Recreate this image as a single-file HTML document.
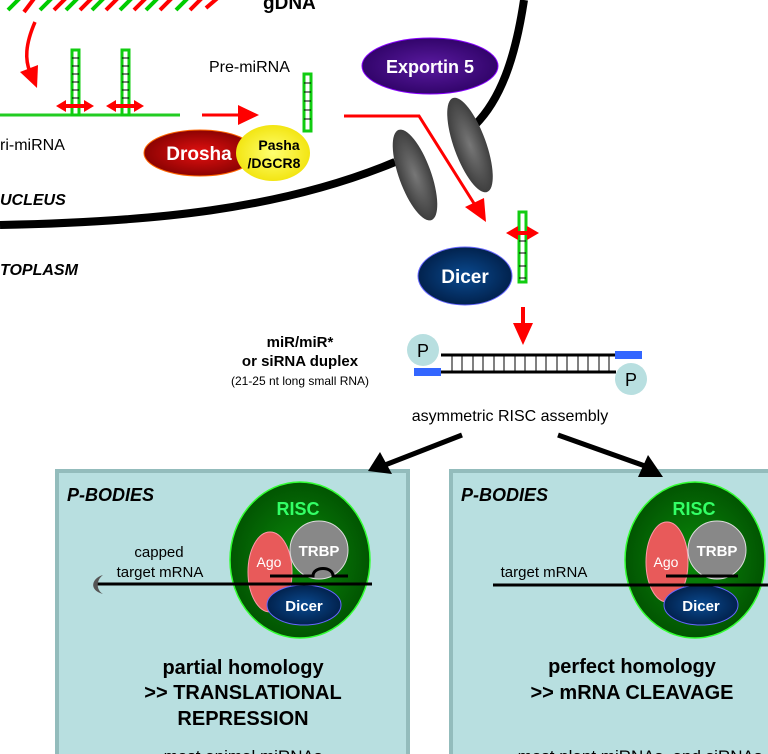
<!DOCTYPE html>
<html><head><meta charset="utf-8"><style>
html,body{margin:0;padding:0;background:#fff;}
svg{display:block;font-family:"Liberation Sans",Arial,sans-serif;}
</style></head><body>
<svg width="768" height="754" viewBox="0 0 768 754" xmlns="http://www.w3.org/2000/svg">
<defs>
<radialGradient id="gr" cx="50%" cy="50%" r="60%"><stop offset="0" stop-color="#e41010"/><stop offset="1" stop-color="#7a0000"/></radialGradient>
<radialGradient id="gy" cx="50%" cy="50%" r="60%"><stop offset="0" stop-color="#ffff70"/><stop offset="1" stop-color="#f0e000"/></radialGradient>
<radialGradient id="gp" cx="50%" cy="50%" r="60%"><stop offset="0" stop-color="#5a1aa0"/><stop offset="1" stop-color="#2a0060"/></radialGradient>
<radialGradient id="gb" cx="50%" cy="50%" r="60%"><stop offset="0" stop-color="#0a4a90"/><stop offset="1" stop-color="#001a40"/></radialGradient>
<radialGradient id="gg" cx="50%" cy="50%" r="60%"><stop offset="0" stop-color="#777"/><stop offset="1" stop-color="#333"/></radialGradient>
<radialGradient id="gG" cx="50%" cy="50%" r="60%"><stop offset="0" stop-color="#0a8a0a"/><stop offset="1" stop-color="#004a00"/></radialGradient>
</defs>
<path d="M8,10 L22,-4 M40,10 L54,-4 M66,10 L80,-4 M92,10 L106,-4 M120,10 L134,-4 M146,10 L160,-4 M176,10 L190,-4" stroke="#00cc00" stroke-width="4" fill="none"/>
<path d="M24,12 L36,-4 M54,10 L68,-4 M80,10 L94,-4 M106,10 L120,-4 M134,10 L148,-4 M160,10 L174,-4 M190,10 L204,-4 M206,8 L220,-4" stroke="#ff0000" stroke-width="4" fill="none"/>
<text x="263" y="9" font-weight="bold" font-size="19">gDNA</text>
<path d="M35,22 C25,45 25,60 30,72" stroke="#f00" stroke-width="3.5" fill="none"/>
<path d="M20,72 L38,65 L37,88z" fill="#f00"/>
<path d="M0,115 H72 M79,115 H122 M129,115 H180" stroke="#2c2" stroke-width="3"/>
<rect x="72" y="50" width="7" height="65" fill="#fff" stroke="#1c1" stroke-width="3"/>
<rect x="122" y="50" width="7" height="65" fill="#fff" stroke="#1c1" stroke-width="3"/>
<path d="M72,58h7M72,66h7M72,74h7M72,82h7M72,90h7M72,98h7M72,106h7M122,58h7M122,66h7M122,74h7M122,82h7M122,90h7M122,98h7M122,106h7" stroke="#000" stroke-width="1"/>
<path d="M56,106 L66,100 L66,112z M94,106 L84,100 L84,112z M106,106 L116,100 L116,112z M144,106 L134,100 L134,112z" fill="#f00"/>
<rect x="66" y="104" width="18" height="4" fill="#f00"/><rect x="116" y="104" width="18" height="4" fill="#f00"/>
<text x="0" y="150" font-size="16">ri-miRNA</text>
<path d="M202,115 H240" stroke="#f00" stroke-width="3"/><path d="M238,105 L259,115 L238,125z" fill="#f00"/>
<text x="209" y="72" font-size="16">Pre-miRNA</text>
<rect x="304" y="74" width="7" height="57" fill="#fff" stroke="#1c1" stroke-width="3"/>
<path d="M304,83h7M304,92h7M304,101h7M304,110h7M304,119h7" stroke="#000"/>
<ellipse cx="200" cy="153" rx="56" ry="23" fill="url(#gr)" stroke="#f60" stroke-width="1"/>
<text x="199" y="160" font-size="19" font-weight="bold" fill="#fff" text-anchor="middle">Drosha</text>
<ellipse cx="273" cy="153" rx="37" ry="28" fill="url(#gy)"/>
<text x="279" y="150" font-size="14" font-weight="bold" text-anchor="middle">Pasha</text>
<text x="274" y="168" font-size="14" font-weight="bold" text-anchor="middle">/DGCR8</text>
<text x="0" y="205" font-size="16" font-weight="bold" font-style="italic">UCLEUS</text>
<text x="0" y="275" font-size="16" font-weight="bold" font-style="italic">TOPLASM</text>
<path d="M0,225 C150,222 280,210 395,162" stroke="#000" stroke-width="8" fill="none"/>
<path d="M475,125 C500,100 515,60 524,0" stroke="#000" stroke-width="8" fill="none"/>
<ellipse cx="430" cy="66" rx="68" ry="28" fill="url(#gp)" stroke="#80f" stroke-width="1"/>
<text x="430" y="73" font-size="18" font-weight="bold" fill="#fff" text-anchor="middle">Exportin 5</text>
<ellipse cx="415" cy="175" rx="16" ry="48" transform="rotate(-20 415 175)" fill="url(#gg)"/>
<ellipse cx="470" cy="145" rx="16" ry="50" transform="rotate(-20 470 145)" fill="url(#gg)"/>
<path d="M344,116 H419 L475,205" stroke="#f00" stroke-width="3" fill="none"/>
<path d="M465,207 L484,198 L486,222z" fill="#f00"/>
<ellipse cx="465" cy="276" rx="47" ry="29" fill="url(#gb)" stroke="#66f" stroke-width="1"/>
<text x="465" y="283" font-size="19" font-weight="bold" fill="#fff" text-anchor="middle">Dicer</text>
<rect x="519" y="212" width="7" height="70" fill="#fff" stroke="#1c1" stroke-width="3"/>
<path d="M519,241h7M519,253h7M519,266h7M519,278h7" stroke="#000"/>
<path d="M506,233 L518,226 L518,240z M539,233 L527,226 L527,240z" fill="#f00"/><rect x="517" y="231" width="11" height="4" fill="#f00"/>
<path d="M523,307 V325" stroke="#f00" stroke-width="4"/><path d="M513,323 L533,323 L523,345z" fill="#f00"/>
<path d="M441,355 H616 M441,372 H616" stroke="#000" stroke-width="3"/>
<path d="M452,355v17M462,355v17M473,355v17M483,355v17M494,355v17M504,355v17M515,355v17M525,355v17M536,355v17M546,355v17M557,355v17M567,355v17M578,355v17M588,355v17M599,355v17M609,355v17" stroke="#000" stroke-width="1"/>
<rect x="615" y="351" width="27" height="8" fill="#36f"/><rect x="414" y="368" width="27" height="8" fill="#36f"/>
<circle cx="423" cy="350" r="16" fill="#b8dfe0"/><text x="423" y="357" font-size="18" text-anchor="middle">P</text>
<circle cx="631" cy="379" r="16" fill="#b8dfe0"/><text x="631" y="386" font-size="18" text-anchor="middle">P</text>
<text x="300" y="347" font-size="15" font-weight="bold" text-anchor="middle">miR/miR*</text>
<text x="300" y="366" font-size="15" font-weight="bold" text-anchor="middle">or siRNA duplex</text>
<text x="300" y="385" font-size="12" text-anchor="middle">(21-25 nt long small RNA)</text>
<text x="510" y="421" font-size="16" text-anchor="middle">asymmetric RISC assembly</text>
<rect x="57" y="471" width="351" height="290" fill="#b8dfe0" stroke="#93bcbc" stroke-width="4"/>
<rect x="451" y="471" width="330" height="290" fill="#b8dfe0" stroke="#93bcbc" stroke-width="4"/>
<path d="M462,435 L385,465" stroke="#000" stroke-width="5"/><path d="M368,471 L380,452 L392,474z" fill="#000"/>
<path d="M558,435 L645,466" stroke="#000" stroke-width="5"/><path d="M663,477 L638,477 L648,455z" fill="#000"/>
<text x="67" y="501" font-size="18" font-weight="bold" font-style="italic">P-BODIES</text>
<text x="461" y="501" font-size="18" font-weight="bold" font-style="italic">P-BODIES</text>
<ellipse cx="300" cy="560" rx="70" ry="78" fill="url(#gG)" stroke="#3f3" stroke-width="1.5"/>
<text x="298" y="515" font-size="18" font-weight="bold" fill="#3f6" text-anchor="middle">RISC</text>
<ellipse cx="270" cy="572" rx="22" ry="40" fill="#e85a5a" stroke="#f9a" stroke-width="1"/>
<text x="269" y="567" font-size="14" fill="#fff" text-anchor="middle">Ago</text>
<circle cx="319" cy="550" r="29" fill="#888" stroke="#ddd" stroke-width="1"/>
<text x="319" y="556" font-size="15" font-weight="bold" fill="#fff" text-anchor="middle">TRBP</text>
<ellipse cx="304" cy="605" rx="37" ry="20" fill="url(#gb)" stroke="#66f" stroke-width="1"/>
<text x="304" y="611" font-size="15" font-weight="bold" fill="#fff" text-anchor="middle">Dicer</text>
<path d="M96,584 H372" stroke="#000" stroke-width="3"/>
<path d="M270,576 H313 C313,566 333,566 333,576 H348" stroke="#000" stroke-width="3" fill="none"/>
<path d="M103,575 C92,578 88,590 103,594 C96,590 96,580 103,575z" fill="#555"/>
<text x="159" y="557" font-size="15" text-anchor="middle">capped</text>
<text x="160" y="577" font-size="15" text-anchor="middle">target mRNA</text>
<text x="243" y="674" font-size="20" font-weight="bold" text-anchor="middle">partial homology</text>
<text x="243" y="699" font-size="20" font-weight="bold" text-anchor="middle">&gt;&gt; TRANSLATIONAL</text>
<text x="243" y="725" font-size="20" font-weight="bold" text-anchor="middle">REPRESSION</text>
<text x="243" y="762" font-size="17" text-anchor="middle">most animal miRNAs</text>
<ellipse cx="695" cy="560" rx="70" ry="78" fill="url(#gG)" stroke="#3f3" stroke-width="1.5"/>
<text x="694" y="515" font-size="18" font-weight="bold" fill="#3f6" text-anchor="middle">RISC</text>
<ellipse cx="667" cy="562" rx="21" ry="40" fill="#e85a5a" stroke="#f9a" stroke-width="1"/>
<text x="666" y="567" font-size="14" fill="#fff" text-anchor="middle">Ago</text>
<circle cx="717" cy="550" r="29" fill="#888" stroke="#ddd" stroke-width="1"/>
<text x="717" y="556" font-size="15" font-weight="bold" fill="#fff" text-anchor="middle">TRBP</text>
<ellipse cx="701" cy="605" rx="37" ry="20" fill="url(#gb)" stroke="#66f" stroke-width="1"/>
<text x="701" y="611" font-size="15" font-weight="bold" fill="#fff" text-anchor="middle">Dicer</text>
<path d="M493,585 H770" stroke="#000" stroke-width="3"/>
<path d="M666,576 H738" stroke="#000" stroke-width="3"/>
<text x="544" y="577" font-size="15" text-anchor="middle">target mRNA</text>
<text x="632" y="673" font-size="20" font-weight="bold" text-anchor="middle">perfect homology</text>
<text x="632" y="699" font-size="20" font-weight="bold" text-anchor="middle">&gt;&gt; mRNA CLEAVAGE</text>
<text x="640" y="762" font-size="17" text-anchor="middle">most plant miRNAs, and siRNAs</text>
</svg>
</body></html>
